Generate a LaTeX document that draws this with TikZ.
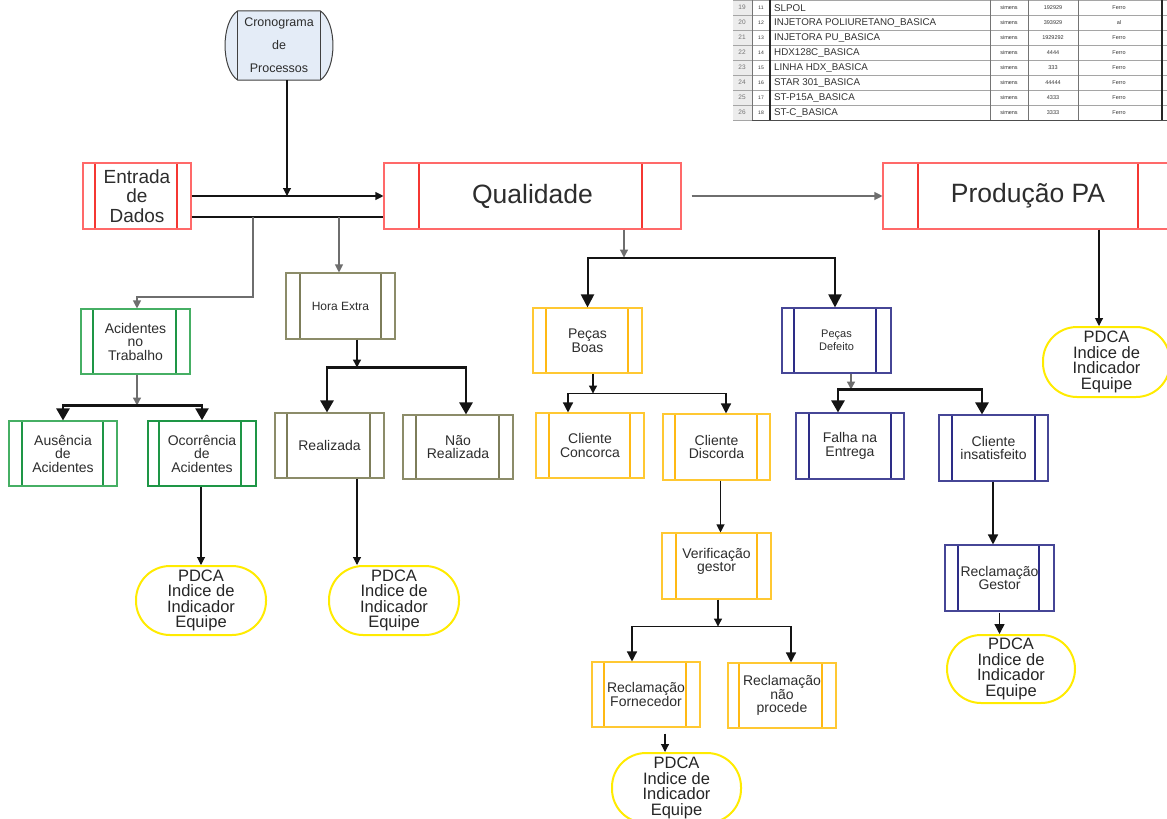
\documentclass[tikz,border=0pt]{standalone}
\usepackage{fontspec}
\setmainfont{Liberation Sans}
\usetikzlibrary{arrows.meta,backgrounds,calc}

\definecolor{boxred}{RGB}{255,105,105}
\definecolor{redline}{RGB}{245,55,50}
\definecolor{boxgreen}{RGB}{70,175,100}
\definecolor{greenline}{RGB}{30,150,70}
\definecolor{boxolive}{RGB}{140,140,105}
\definecolor{oliveline}{RGB}{125,125,90}
\definecolor{boxgold}{RGB}{255,200,50}
\definecolor{goldline}{RGB}{255,185,20}
\definecolor{boxnavy}{RGB}{70,70,150}
\definecolor{navyline}{RGB}{45,45,135}
\definecolor{pdcayellow}{RGB}{255,235,0}
\definecolor{drumfill}{RGB}{228,236,247}
\definecolor{txt}{RGB}{45,45,45}
\definecolor{gridgray}{RGB}{165,165,165}
\definecolor{headfill}{RGB}{236,236,236}
\definecolor{wire}{RGB}{20,20,20}
\definecolor{softwire}{RGB}{110,110,110}

\tikzset{
  insetl/.store in=\insetl, insetr/.store in=\insetr,
  insetl=13pt, insetr=14pt,
  procbox/.style 2 args={
    draw=#1, line width=1.1pt, rectangle, inner sep=1pt, align=center,
    text=txt, font=\fontsize{14}{13.5}\selectfont,
    minimum width=108pt, minimum height=65pt,
    path picture={
      \draw[draw=#2, line width=1.1pt]
        ([xshift=\insetl]path picture bounding box.north west) --
        ([xshift=\insetl]path picture bounding box.south west)
        ([xshift=-\insetr]path picture bounding box.north east) --
        ([xshift=-\insetr]path picture bounding box.south east);
    }},
  redbox/.style={procbox={boxred}{redline}},
  greenbox/.style={procbox={boxgreen}{greenline}},
  olivebox/.style={procbox={boxolive}{oliveline}},
  goldbox/.style={procbox={boxgold}{goldline}},
  navybox/.style={procbox={boxnavy}{navyline}},
  pdca/.style={draw=pdcayellow, line width=2pt, rounded corners=34pt,
    minimum width=130pt, minimum height=69pt, inner sep=0pt, align=center,
    text=black!85, font=\fontsize{16.5}{15.5}\selectfont},
  link/.style={draw=wire, line width=1.1pt, -{Triangle[length=8pt,width=8pt]}},
  softlink/.style={link, draw=softwire},
  midlink/.style={draw=wire, line width=1.4pt, -{Triangle[length=10pt,width=10pt]}},
  bold/.style={draw=wire, line width=2pt, -{Triangle[length=13pt,width=13pt]}},
  heavy/.style={draw=wire, line width=2.6pt, -{Triangle[length=12pt,width=13pt]}},
  plain/.style={draw=wire, line width=1.1pt},
  cell/.style={inner sep=0pt, text=black!80}
}

\begin{document}
\begin{tikzpicture}[x=1pt, y=-1pt]
\useasboundingbox (0,0) rectangle (1167,819);
\clip (0,0) rectangle (1167,819);
\begin{scope}[on background layer]
  \fill[white] (0,0) rectangle (1167,819);
\end{scope}

% ---------- register table ----------
\fill[white] (733,0) rectangle (1167,121);
\fill[headfill] (733,0) rectangle (752,121);
\foreach \r in {0,...,8}
  \draw[gridgray, line width=0.7pt] (733,15*\r) -- (1167,15*\r);
\foreach \x in {752,990,1028,1078}
  \draw[gridgray!70!black, line width=0.7pt] (\x,0) -- (\x,120);
\draw[black!85, line width=1.2pt] (770,0) -- (770,120);
\draw[black!85, line width=1.2pt] (1162,0) -- (1162,120);
\draw[black!70, line width=0.9pt] (752,120.5) -- (1167,120.5);
\foreach \row/\name/\num/\mat [count=\k] in {
    19/SLPOL/192929/Ferro,
    20/INJETORA POLIURETANO\_BASICA/393929/al,
    21/INJETORA PU\_BASICA/1929292/Ferro,
    22/HDX128C\_BASICA/4444/Ferro,
    23/LINHA HDX\_BASICA/333/Ferro,
    24/STAR 301\_BASICA/44444/Ferro,
    25/ST-P15A\_BASICA/4333/Ferro,
    26/ST-C\_BASICA/3333/Ferro} {
  \node[cell, text=black!55, font=\fontsize{6.5}{7}\selectfont] (trow\k) at (742,15*\k-7.5) {\row};
  \node[cell, font=\fontsize{5}{6}\selectfont] (tidx\k) at (761,15*\k-7.5) {\the\numexpr\k+10\relax};
  \node[cell, anchor=west, font=\fontsize{9.8}{10}\selectfont] (tname\k) at (774,15*\k-7) {\name};
  \node[cell, font=\fontsize{5.5}{6}\selectfont] (tsim\k) at (1009,15*\k-7.5) {simens};
  \node[cell, font=\fontsize{5.5}{6}\selectfont] (tnum\k) at (1053,15*\k-7.5) {\num};
  \node[cell, font=\fontsize{5.5}{6}\selectfont] (tmat\k) at (1119,15*\k-7.5) {\mat};
}

% ---------- process schedule (drum) ----------
\node[minimum width=82pt, minimum height=69pt, inner sep=0pt, align=center,
      text=txt, font=\fontsize{12.5}{23}\selectfont] (cron) at (279,45.5)
      {Cronograma\\de\\Processos};
\begin{scope}[on background layer]
  \draw[fill=drumfill, draw=black!75, line width=1pt]
    (cron.north west) -- (cron.north east)
    .. controls ($(cron.north east)+(17,11)$) and ($(cron.south east)+(17,-11)$) .. (cron.south east)
    -- (cron.south west)
    .. controls ($(cron.south west)+(-17,-11)$) and ($(cron.north west)+(-17,11)$) .. cycle;
  \draw[black!75, line width=1pt] (cron.north west) -- (cron.south west)
    (cron.north east) -- (cron.south east);
\end{scope}

% ---------- main row ----------
\node[redbox, minimum width=108pt, minimum height=66pt, insetl=12pt, insetr=14pt,
      font=\fontsize{19}{19.5}\selectfont] (ent) at (137,196) {Entrada\\de\\Dados};
\node[redbox, minimum width=297pt, minimum height=66pt, insetl=35pt, insetr=39pt,
      font=\fontsize{26.5}{28}\selectfont] (qual) at (532.5,196) {Qualidade};
\node[redbox, minimum width=290pt, minimum height=66pt, insetl=35pt, insetr=35pt,
      font=\fontsize{26.5}{28}\selectfont] (prod) at (1028,196) {Produção PA};

% ---------- safety branch ----------
\node[greenbox, minimum width=109pt, insetl=12pt] (acc) at (135.5,341.5) {Acidentes\\no\\Trabalho};
\node[greenbox] (aus) at (63,453.5) {Ausência\\de\\Acidentes};
\node[greenbox, draw=greenline, line width=1.5pt, insetl=11pt, insetr=15pt] (oco) at (202,453.5) {Ocorrência\\de\\Acidentes};

% ---------- overtime branch ----------
\node[olivebox, minimum width=109pt, minimum height=66pt, insetl=14pt,
      font=\fontsize{12}{13}\selectfont] (hora) at (340.5,306) {Hora Extra};
\node[olivebox, minimum width=109pt, insetl=12pt] (real) at (329.5,445.5) {Realizada};
\node[olivebox, minimum width=110pt, minimum height=64pt] (nreal) at (458,447) {Não\\Realizada};

% ---------- good parts branch ----------
\node[goldbox, minimum width=109pt] (boas) at (587.5,340.5) {Peças\\Boas};
\node[goldbox] (conc) at (590,445.5) {Cliente\\Concorca};
\node[goldbox, minimum width=107pt, minimum height=66pt, insetl=12pt, insetr=13pt] (disc) at (716.5,447) {Cliente\\Discorda};
\node[goldbox, minimum width=109pt, minimum height=66pt, insetl=14pt, insetr=14pt,
      font=\fontsize{14}{12.7}\selectfont] (verif) at (716.5,566) {Verificação\\gestor\\\mbox{}};
\node[goldbox, insetl=12pt] (forn) at (646,694.5) {Reclamação\\Fornecedor};
\node[goldbox, insetl=11pt] (nproc) at (782,695.5) {Reclamação\\não\\procede};

% ---------- defective parts branch ----------
\node[navybox, minimum width=109pt, insetl=12pt, insetr=15pt,
      font=\fontsize{11}{13}\selectfont] (defe) at (836.5,340.5) {Peças\\Defeito};
\node[navybox, minimum height=66pt, insetr=13pt] (falha) at (850,446) {Falha na\\Entrega};
\node[navybox, minimum width=109pt, minimum height=66pt, insetr=13pt] (insat) at (993.5,448) {Cliente\\insatisfeito};
\node[navybox, minimum width=109pt, minimum height=66pt, insetr=15pt] (gest) at (999.5,578) {Reclamação\\Gestor};

% ---------- PDCA terminals ----------
\node[pdca] (p1) at (201,600.5) {PDCA\\Indice de\\Indicador\\Equipe};
\node[pdca] (p2) at (394,600.5) {PDCA\\Indice de\\Indicador\\Equipe};
\node[pdca, minimum width=129pt, minimum height=70pt] (p4) at (676.5,788) {PDCA\\Indice de\\Indicador\\Equipe};
\node[pdca, minimum width=128pt, minimum height=68pt] (p5) at (1011,669) {PDCA\\Indice de\\Indicador\\Equipe};
\node[pdca, minimum width=127pt, minimum height=70pt] (p6) at (1106.5,362) {PDCA\\Indice de\\Indicador\\Equipe};

% ---------- connectors ----------
\coordinate (feed) at ([xshift=8pt]cron.south |- ent.east);
\draw[link] ([xshift=8pt]cron.south) -- (feed);
\draw[link] (ent.east) -- (qual.west);
\draw[plain] ([yshift=-21pt]ent.east) -- ([yshift=-21pt]qual.west);
\coordinate (b1) at (253,217);
\coordinate (b2) at (339,217);
\draw[softlink] (b1) -- ++(0,80) -| ([xshift=1.5pt]acc.north);
\draw[softlink, draw=softwire] (b2) -- (b2 |- hora.north);
\draw[softlink, shorten <=10pt] (qual.east) -- (prod.west);

% safety
\path ([xshift=1.5pt]acc.south) ++(0,31) coordinate (j1);
\draw[softlink] ([xshift=1.5pt]acc.south) -- (j1);
\draw[heavy] (j1) -| (aus.north);
\draw[heavy] (j1) -| (oco.north);
\draw[link] ([xshift=-1pt]oco.south) -- ([xshift=-1pt]oco.south |- p1.north);

% overtime
\path ([xshift=16.5pt]hora.south) ++(0,28) coordinate (j2);
\draw[link] ([xshift=16.5pt]hora.south) -- (j2);
\draw[heavy] (j2) -| ([xshift=-2.5pt]real.north);
\draw[heavy] (j2) -| ([xshift=8pt]nreal.north);
\draw[link] ([xshift=27.5pt]real.south) -- ([xshift=27.5pt]real.south |- p2.north);

% quality split
\path ([xshift=91.5pt]qual.south) ++(0,28) coordinate (j3);
\draw[softlink] ([xshift=91.5pt]qual.south) -- (j3);
\draw[bold] (j3) -| (boas.north);
\draw[bold] (j3) -| ([xshift=-1.5pt]defe.north);

% good parts
\path ([xshift=5.5pt]boas.south) ++(0,20) coordinate (j4);
\draw[link] ([xshift=5.5pt]boas.south) -- (j4);
\draw[midlink] (j4) -| ([xshift=-22pt]conc.north);
\draw[midlink] (j4) -| ([xshift=9.5pt]disc.north);
\draw[link] ([xshift=4pt]disc.south) -- ([xshift=4pt]disc.south |- verif.north);
\path ([xshift=1.5pt]verif.south) ++(0,27) coordinate (j6);
\draw[link] ([xshift=1.5pt]verif.south) -- (j6);
\draw[midlink] (j6) -| ([xshift=-14pt]forn.north);
\draw[midlink] (j6) -| ([xshift=9pt]nproc.north);
\draw[link, shorten <=6pt] ([xshift=19pt]forn.south) -- ([xshift=19pt]forn.south |- p4.north);

% defective parts
\path ([xshift=14.5pt]defe.south) ++(0,16) coordinate (j5);
\draw[softlink] ([xshift=14.5pt]defe.south) -- (j5);
\draw[heavy] (j5) -| ([xshift=-12pt]falha.north);
\draw[heavy] (j5) -| ([xshift=-11.5pt]insat.north);
\draw[midlink] ([xshift=-0.5pt]insat.south) -- ([xshift=-0.5pt]insat.south |- gest.north);
\draw[midlink, shorten <=1pt] (gest.south) -- (gest.south |- p5.north);

% production
\draw[link] ([xshift=71pt]prod.south) -- ([xshift=71pt]prod.south |- p6.north);
\end{tikzpicture}
\end{document}
